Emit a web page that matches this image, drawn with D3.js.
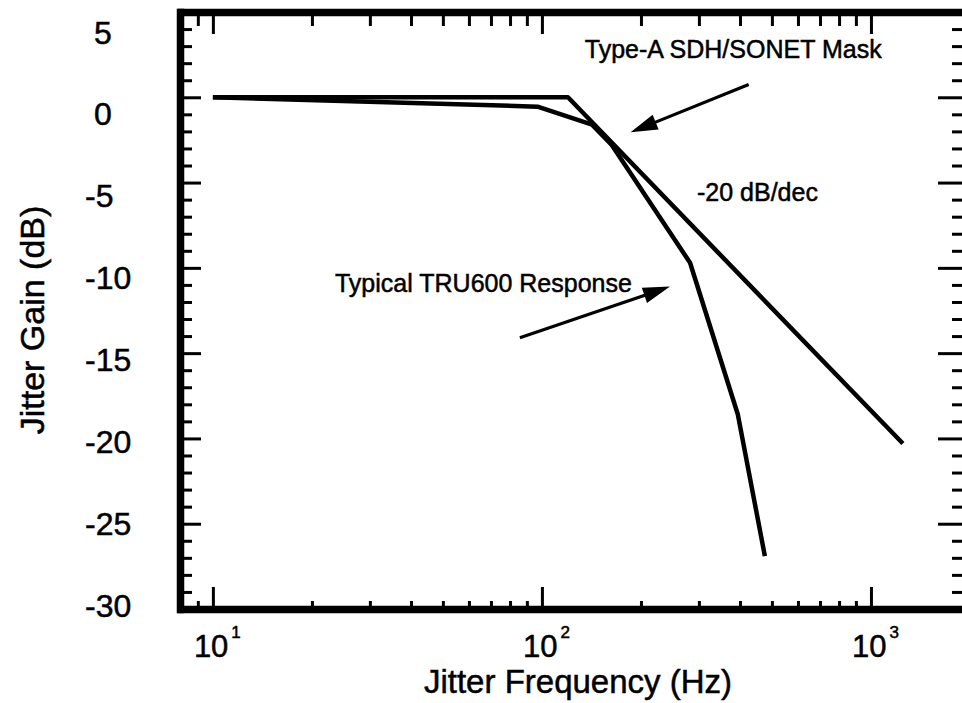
<!DOCTYPE html>
<html><head><meta charset="utf-8">
<script src="https://cdn.jsdelivr.net/npm/d3@7"></script>
<style>
body{margin:0;background:#fff}
svg{display:block}
text{font-family:"Liberation Sans",Arial,Helvetica,sans-serif;fill:#000;stroke:#000;stroke-width:0.5}
</style>
</head><body>
<svg id="c" width="962" height="703"></svg>
<script>
// ---- data ----
const xTickValues=[9,10,20,30,40,50,60,70,80,90,100,200,300,400,500,600,700,800,900,1000];
const xMajorTicks=[10,100,1000];
const xTickExponents=["1","2","3"];
const yTickValues=[-30,-29,-28,-27,-26,-25,-24,-23,-22,-21,-20,-19,-18,-17,-16,-15,-14,-13,-12,-11,-10,-9,-8,-7,-6,-5,-4,-3,-2,-1,0,1,2,3,4,5];
const yMajorTicks=[5,0,-5,-10,-15,-20,-25,-30];
const yTickLabels=["5","0","-5","-10","-15","-20","-25","-30"];
const maskFreq=[10,120,1250];
const maskGain=[0,0,-20.3];
const truFreq=[10,97,142,163,282,394,476];
const truGain=[0,-0.55,-1.6,-2.8,-9.7,-18.6,-26.9];
const annotations=[
  {text:"Type-A SDH/SONET Mask",f:135,g:2.3},
  {text:"-20 dB/dec",f:296,g:-6.1},
  {text:"Typical TRU600 Response",f:23.5,g:-11.4}
];
const arrows=[
  {f0:425,g0:0.75,f1:186,g1:-2.05},
  {f0:85.7,g0:-14.1,f1:245,g1:-11.1}
];

// ---- scales ----
const x=d3.scaleLog().domain([8,2000]).range([181,970]);
const y=d3.scaleLinear().domain([-30,5]).range([609,12]);
const yLab=d3.scaleLinear().domain([5,-30]).range([32,605]);

const svg=d3.select("#c");

function styleAxis(g,majors,majLen,minLen,sign,vertical){
  g.select(".domain").attr("stroke","#000").attr("stroke-width",7.5).attr("stroke-linecap","square");
  g.selectAll(".tick line").attr("stroke","#000").attr("stroke-width",3)
   .each(function(d){
     const L=(majors.includes(d)?majLen:minLen)*sign;
     if(vertical) d3.select(this).attr("x2",L); else d3.select(this).attr("y2",L);
   });
  g.selectAll(".tick text").remove();
}

svg.append("g").attr("transform","translate(0,609)")
  .call(d3.axisBottom(x).tickValues(xTickValues).tickSizeOuter(0).tickFormat(""))
  .call(g=>styleAxis(g,xMajorTicks,22,8,-1,false));
svg.append("g").attr("transform","translate(0,12)")
  .call(d3.axisTop(x).tickValues(xTickValues).tickSizeOuter(0).tickFormat(""))
  .call(g=>styleAxis(g,xMajorTicks,22,14,1,false));
svg.append("g").attr("transform","translate(180,0)")
  .call(d3.axisLeft(y).tickValues(yTickValues).tickSizeOuter(0).tickFormat(""))
  .call(g=>styleAxis(g,yMajorTicks,21,12,1,true));
svg.append("g").attr("transform","translate(970,0)")
  .call(d3.axisRight(y).tickValues(yTickValues).tickSizeOuter(0).tickFormat(""))
  .call(g=>styleAxis(g,yMajorTicks,32,18,-1,true));

// y tick labels
svg.append("g").selectAll("text").data(yMajorTicks).join("text")
  .attr("x",(d,i)=>85+(yTickLabels[i].startsWith("-")?0:9))
  .attr("y",d=>yLab(d)).attr("dy","0.36em")
  .attr("font-size",32)
  .text((d,i)=>yTickLabels[i]);

// x tick labels
const xl=svg.append("g").selectAll("text").data(xMajorTicks).join("text")
  .attr("x",d=>x(d)-19).attr("y",657).attr("font-size",31);
xl.append("tspan").text("10");
xl.append("tspan").attr("font-size",17).attr("dx",3).attr("dy",-19).text((d,i)=>xTickExponents[i]);

// titles
svg.append("text").attr("x",578).attr("y",693).attr("text-anchor","middle")
  .attr("font-size",33).text("Jitter Frequency (Hz)");
svg.append("text").attr("transform","translate(44,320) rotate(-90)").attr("text-anchor","middle")
  .attr("font-size",34).text("Jitter Gain (dB)");

// curves
const line=d3.line().x(d=>x(d[0])).y(d=>y(d[1]));
svg.append("path").datum(maskFreq.map((f,i)=>[f,maskGain[i]]))
  .attr("d",line).attr("fill","none").attr("stroke","#000").attr("stroke-width",4.5).attr("stroke-linejoin","round");
svg.append("path").datum(truFreq.map((f,i)=>[f,truGain[i]]))
  .attr("d",line).attr("fill","none").attr("stroke","#000").attr("stroke-width",4.5).attr("stroke-linejoin","round");

// annotations
svg.append("g").selectAll("text").data(annotations).join("text")
  .attr("x",d=>x(d.f)).attr("y",d=>y(d.g)).attr("font-size",25).text(d=>d.text);

// arrows
const ag=svg.append("g");
arrows.forEach(a=>{
  const x0=x(a.f0),y0=y(a.g0),x1=x(a.f1),y1=y(a.g1);
  const dx=x1-x0,dy=y1-y0,len=Math.hypot(dx,dy),ux=dx/len,uy=dy/len;
  const hl=27,hw=8;
  const bx=x1-ux*hl,by=y1-uy*hl;
  ag.append("line").attr("x1",x0).attr("y1",y0).attr("x2",bx+ux*2).attr("y2",by+uy*2)
    .attr("stroke","#000").attr("stroke-width",3.2);
  ag.append("path").attr("d",`M${x1},${y1}L${bx-uy*hw},${by+ux*hw}L${bx+uy*hw},${by-ux*hw}Z`).attr("fill","#000");
});
</script>
</body></html>
